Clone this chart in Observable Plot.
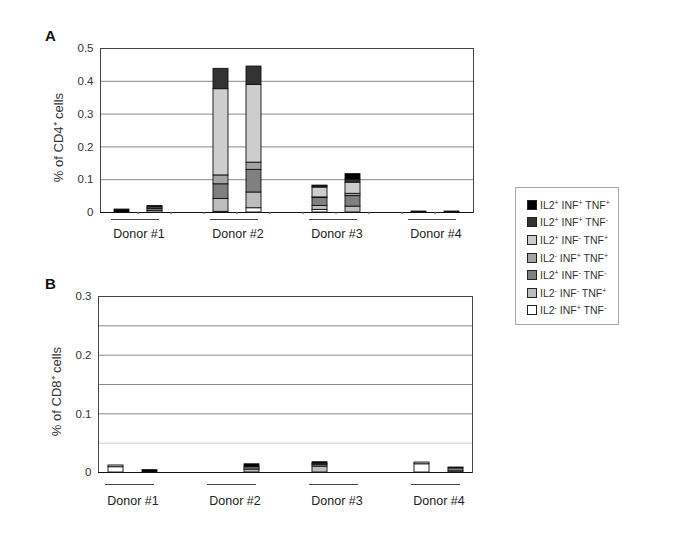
<!DOCTYPE html>
<html><head><meta charset="utf-8">
<script src="https://cdn.jsdelivr.net/npm/d3@7"></script>
<script src="https://cdn.jsdelivr.net/npm/@observablehq/plot@0.6"></script>
<style>
body{margin:0;background:#fff;font-family:"Liberation Sans",Arial,sans-serif;}
#wrap{position:relative;width:685px;height:546px;overflow:hidden;background:#fff;}
.panel{position:absolute;left:0;}
.letter{position:absolute;font-weight:bold;font-size:15px;color:#111;}
#legend{position:absolute;left:515px;top:187px;width:104px;height:138px;border:1px solid #aaa;box-sizing:border-box;padding-top:8px;}
.item{display:flex;align-items:center;height:17.6px;padding-left:11px;font-size:10.5px;color:#333;white-space:nowrap;}
.sw{width:10px;height:10px;border:1px solid #222;box-sizing:border-box;margin-right:3px;flex:none;}
.item sup{font-size:7px;vertical-align:4px;line-height:0;}
</style></head><body><div id="wrap">
<div class="letter" style="left:45px;top:27px;">A</div>
<div class="letter" style="left:45px;top:275px;">B</div>
<div id="pA" class="panel" style="top:30px;"></div>
<div id="pB" class="panel" style="top:280px;"></div>
<div id="legend"></div>
</div>
<script>
// series, bottom of stack -> top of stack
const seriesNames = ["IL2- INF+ TNF-", "IL2- INF- TNF+", "IL2+ INF- TNF-", "IL2- INF+ TNF+", "IL2+ INF- TNF+", "IL2+ INF+ TNF-", "IL2+ INF+ TNF+"];
const seriesColors = ["#ffffff", "#bdbdbd", "#808080", "#a4a4a4", "#cdcdcd", "#333333", "#000000"];
const bars = ["1a", "1b", "2a", "2b", "3a", "3b", "4a", "4b"];
const slots = ["1a", "1b", "g1", "2a", "2b", "g2", "3a", "3b", "g3", "4a", "4b"];
const donorNames = ["Donor #1", "Donor #2", "Donor #3", "Donor #4"];
const donorFirst = ["1a", "2a", "3a", "4a"];
const donorSecond = ["1b", "2b", "3b", "4b"];

// CD4 values, one array per series (bars in order of `bars`)
const cd4_IL2m_INFp_TNFm = [0, 0.005, 0.002, 0.013, 0.008, 0, 0, 0];
const cd4_IL2m_INFm_TNFp = [0, 0.005, 0.039, 0.048, 0.012, 0.018, 0, 0];
const cd4_IL2p_INFm_TNFm = [0, 0, 0.045, 0.069, 0.024, 0.032, 0, 0];
const cd4_IL2m_INFp_TNFp = [0, 0.003, 0.027, 0.022, 0.002, 0.007, 0, 0];
const cd4_IL2p_INFm_TNFp = [0, 0.004, 0.263, 0.237, 0.030, 0.034, 0, 0];
const cd4_IL2p_INFp_TNFm = [0, 0.003, 0.062, 0.056, 0.004, 0.009, 0, 0];
const cd4_IL2p_INFp_TNFp = [0.009, 0, 0, 0, 0.002, 0.017, 0.003, 0.003];

// CD8 values
const cd8_IL2m_INFp_TNFm = [0.009, 0, 0, 0, 0, 0, 0.014, 0];
const cd8_IL2m_INFm_TNFp = [0, 0, 0, 0.005, 0.010, 0, 0, 0.002];
const cd8_IL2p_INFm_TNFm = [0, 0, 0, 0.004, 0.003, 0, 0, 0.005];
const cd8_IL2m_INFp_TNFp = [0, 0, 0, 0, 0, 0, 0, 0];
const cd8_IL2p_INFm_TNFp = [0.003, 0, 0, 0, 0.002, 0, 0.003, 0];
const cd8_IL2p_INFp_TNFm = [0, 0, 0, 0, 0, 0, 0, 0];
const cd8_IL2p_INFp_TNFp = [0, 0.004, 0, 0.005, 0.0025, 0, 0, 0.0015];

const cd4Ticks = [0, 0.1, 0.2, 0.3, 0.4, 0.5];
const cd4Grid = [0.1, 0.2, 0.3, 0.4];
const cd8Ticks = [0, 0.1, 0.2, 0.3];
const cd8Grid = [0.1, 0.15, 0.2, 0.25];
const cd8GridLight = [0.05];

const cd4Series = [cd4_IL2m_INFp_TNFm, cd4_IL2m_INFm_TNFp, cd4_IL2p_INFm_TNFm, cd4_IL2m_INFp_TNFp, cd4_IL2p_INFm_TNFp, cd4_IL2p_INFp_TNFm, cd4_IL2p_INFp_TNFp];
const cd8Series = [cd8_IL2m_INFp_TNFm, cd8_IL2m_INFm_TNFp, cd8_IL2p_INFm_TNFm, cd8_IL2m_INFp_TNFp, cd8_IL2p_INFm_TNFp, cd8_IL2p_INFp_TNFm, cd8_IL2p_INFp_TNFp];

function rowsFrom(seriesArrays) {
  const rows = [];
  seriesArrays.forEach((arr, si) => {
    arr.forEach((v, bi) => { if (v > 0) rows.push({slot: bars[bi], series: seriesNames[si], value: v}); });
  });
  return rows;
}
const donors = donorNames.map((n, i) => ({name: n, first: donorFirst[i], second: donorSecond[i]}));

function panel(opts) {
  const marks = [
    Plot.gridY(opts.grid, {stroke: "#8a8a8a", strokeOpacity: 1}),
  ];
  if (opts.gridLight) marks.push(Plot.gridY(opts.gridLight, {stroke: "#cfcfcf", strokeOpacity: 1}));
  marks.push(
    Plot.frame({stroke: "#444"}),
    Plot.barY(rowsFrom(opts.series), {x: "slot", y: "value", fill: "series", stroke: "#111", strokeWidth: 0.9, order: null}),
    Plot.ruleY([0], {stroke: "#111", strokeWidth: 1.2}),
    Plot.axisY(opts.ticks, {tickSize: 0, tickPadding: 7, label: null, tickFormat: d => String(d), fontSize: 11.5, fill: "#333"}),
    Plot.text([opts.label], {frameAnchor: "left", textAnchor: "middle", rotate: -90, dx: -42, dy: 7, text: d => d, fontSize: 13, fill: "#333"}),
    Plot.ruleY(donors, {x1: "first", x2: "second", y: 0, dy: opts.lineDy, dx: -3, stroke: "#444", strokeWidth: 1}),
    Plot.text(donors, {x: "first", y: 0, dx: 17, dy: opts.textDy, text: "name", fontSize: 12.5, fill: "#222"})
  );
  if (opts.boundaryTicks) marks.push(Plot.ruleX(slots.slice(1), {x: d => d, dx: -17, y1: 0, y2: -opts.tickLen, stroke: "#666"}));
  return Plot.plot({
    width: 500, height: opts.height,
    marginLeft: opts.ml, marginRight: opts.mr, marginTop: opts.mt, marginBottom: opts.mb,
    x: {type: "band", domain: slots, paddingInner: 0.56, paddingOuter: 0.28, axis: null},
    y: {domain: [0, opts.yMax], axis: null},
    color: {domain: seriesNames, range: seriesColors},
    style: {fontFamily: "'Liberation Sans', Arial, sans-serif", background: "transparent", overflow: "visible"},
    marks
  });
}

document.getElementById("pA").append(panel({
  series: cd4Series, yMax: 0.5, ticks: cd4Ticks, grid: cd4Grid, label: "% of CD4⁺ cells",
  height: 220, ml: 100, mr: 27, mt: 18, mb: 38, lineDy: 7, textDy: 21, boundaryTicks: true, tickLen: 0.007
}));
document.getElementById("pB").append(panel({
  series: cd8Series, yMax: 0.3, ticks: cd8Ticks, grid: cd8Grid, gridLight: cd8GridLight, label: "% of CD8⁺ cells",
  height: 230, ml: 98, mr: 28, mt: 16, mb: 38, lineDy: 12, textDy: 28, boundaryTicks: false
}));

// legend: top of stack first
const legend = document.getElementById("legend");
seriesNames.map((n, i) => ({n, c: seriesColors[i]})).reverse().forEach(({n, c}) => {
  const div = document.createElement("div");
  div.className = "item";
  const html = n.replace(/([A-Z0-9]+)([+-])/g, (m, a, s) => a + "<sup>" + (s === "+" ? "+" : "-") + "</sup>");
  div.innerHTML = `<span class="sw" style="background:${c}"></span><span>${html}</span>`;
  legend.append(div);
});
</script>
</body></html>
